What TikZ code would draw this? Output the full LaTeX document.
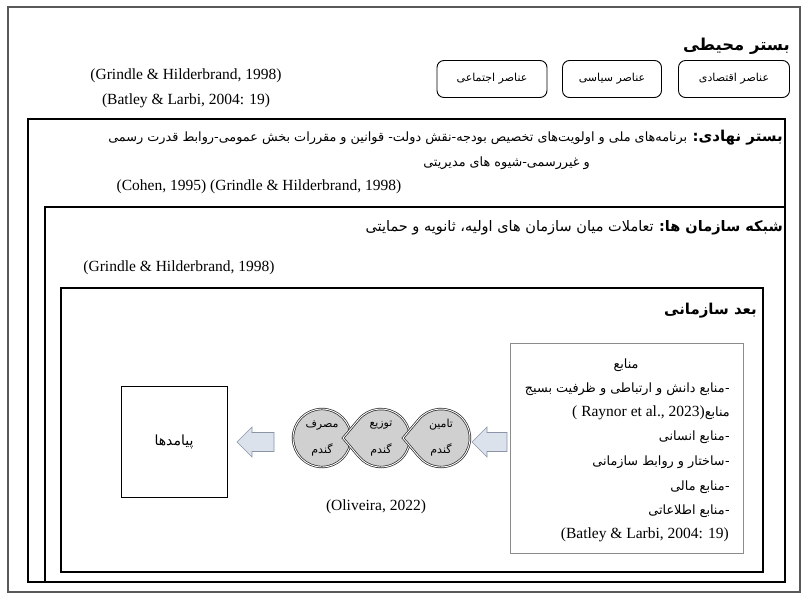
\documentclass[tikz,border=0pt]{standalone}
\usepackage{fontspec}
\setmainfont{Liberation Serif}
\newfontfamily\ar[Script=Arabic]{DejaVu Sans}
\TeXXeTstate=1
\usetikzlibrary{calc}
\definecolor{arrfill}{HTML}{DCE2EC}
\definecolor{arrdraw}{HTML}{8A94A6}
\definecolor{wheatfill}{HTML}{D0D0D0}
\newcommand{\AR}[1]{{\ar\beginR #1\endR}}
\newcommand{\ARd}[1]{{\ar\beginR #1\endR\kern0.5pt-}}
\begin{document}
\begin{tikzpicture}[x=1pt,y=-1pt,
  frame/.style={draw=black!65, line width=1.6pt},
  boxline/.style={draw=black, line width=1.1pt},
  resline/.style={draw=black!45, line width=0.9pt},
  elem/.style={draw=black, line width=0.9pt, rounded corners=7pt, minimum height=37pt, inner sep=0pt, font=\fontsize{11}{13}\selectfont},
  lat/.style={font=\fontsize{15.5}{18}\selectfont, inner sep=0pt},
  artx/.style={font=\fontsize{12.8}{15}\selectfont, inner sep=0pt},
  cirtx/.style={font=\fontsize{11}{13}\selectfont, inner sep=0pt},
  arbold/.style={font=\fontsize{15}{18}\selectfont\bfseries, inner sep=0pt},
  blockarrow/.style={draw=arrdraw, fill=arrfill, line width=0.6pt},
  wheat/.style={fill=wheatfill, draw=black!85, double=white, double distance=0.9pt, line width=0.7pt},
  outbox/.style={draw=black, line width=0.9pt, minimum width=106pt, minimum height=111pt, inner sep=0pt}
]
\useasboundingbox (0,0) rectangle (808,600);
\fill[white] (0,0) rectangle (808,600);

% frames
\draw[frame] (8,7) rectangle (800,592);
\draw[boxline] (28,119) rectangle (785,582);
\draw[boxline] (45,207) rectangle (785,582);
\draw[boxline] (61,288) rectangle (763,572);
\draw[resline] (510,343) rectangle (743,553);

% environment
\node[arbold, font=\fontsize{16.4}{19}\selectfont\bfseries, anchor=east] (envt) at (790,46) {\AR{بستر محیطی}};
\node[elem, minimum width=111pt] (e1) at (734,79) {\AR{عناصر اقتصادی}};
\node[elem, minimum width=99pt] (e2) at (612,79) {\AR{عناصر سیاسی}};
\node[elem, minimum width=110pt] (e3) at (492,79) {\AR{عناصر اجتماعی}};
\node[lat] (c1) at (186,76) {(Grindle \& Hilderbrand, 1998)};
\node[lat] (c2) at (186,101) {(Batley \& Larbi, 2004: 19)};

% institutional
\node[artx, anchor=east] (nh1) at (783,138) {\AR{{\fontsize{15}{18}\selectfont\bfseries بستر نهادی:} برنامه‌های ملی و اولویت‌های تخصیص بودجه-نقش دولت- قوانین و مقررات بخش عمومی-روابط قدرت رسمی}};
\node[artx, anchor=east] (nh2) at (590,163) {\AR{و غیررسمی-شیوه های مدیریتی}};
\node[lat] (c3) at (259,187) {(Cohen, 1995) (Grindle \& Hilderbrand, 1998)};

% network
\node[artx, anchor=east] (sh1) at (783,228) {\AR{{\fontsize{14.5}{17}\selectfont\bfseries شبکه سازمان ها:} {\fontsize{14.5}{17}\selectfont تعاملات میان سازمان های اولیه، ثانویه و حمایتی}}};
\node[lat] (c4) at (179,268) {(Grindle \& Hilderbrand, 1998)};

% organisational
\node[arbold, anchor=east] (org) at (757,311) {\AR{بعد سازمانی}};

% resources
\node[artx] (r0) at (626,365) {\AR{منابع}};
\node[artx, anchor=east] (r1) at (730,389) {\ARd{منابع دانش و ارتباطی و ظرفیت بسیج}};
\node[artx, anchor=east] (r2) at (730,413) {{\fontsize{15.5}{18}\selectfont ( Raynor et al., 2023)}\AR{منابع}};
\node[artx, anchor=east] (r3) at (730,437) {\ARd{منابع انسانی}};
\node[artx, anchor=east] (r4) at (730,462) {\ARd{ساختار و روابط سازمانی}};
\node[artx, anchor=east] (r5) at (730,487) {\ARd{منابع مالی}};
\node[artx, anchor=east] (r6) at (730,511) {\ARd{منابع اطلاعاتی}};
\node[lat, anchor=east] (r7) at (729,535) {(Batley \& Larbi, 2004: 19)};

% outcomes
\node[outbox] (out) at (174,442) {};
\node[artx, font=\fontsize{14}{17}\selectfont] (outt) at (out) {\AR{پیامدها}};

% block arrows
\draw[blockarrow] (237,442) -- (252,427) -- (252,432.5) -- (274,432.5) -- (274,451.5) -- (252,451.5) -- (252,457) -- cycle;
\draw[blockarrow] (472,442) -- (487,427) -- (487,432.5) -- (507,432.5) -- (507,451.5) -- (487,451.5) -- (487,457) -- cycle;

% wheat chain
\coordinate (w1) at (322,438);
\coordinate (w2) at (381,438);
\coordinate (w3) at (441,438);
\path[wheat] (w1) circle[radius=29pt];
\path[wheat] ($(w2)+(-38pt,0pt)$) -- ($(w2)+(140:29pt)$) arc[start angle=140, end angle=-140, radius=29pt] -- cycle;
\path[wheat] ($(w3)+(-38pt,0pt)$) -- ($(w3)+(140:29pt)$) arc[start angle=140, end angle=-140, radius=29pt] -- cycle;
\node[cirtx] (w1a) at ($(w1)+(0pt,13pt)$) {\AR{مصرف}};
\node[cirtx] (w1b) at ($(w1)+(0pt,-12pt)$) {\AR{گندم}};
\node[cirtx] (w2a) at ($(w2)+(0pt,13pt)$) {\AR{توزیع}};
\node[cirtx] (w2b) at ($(w2)+(0pt,-12pt)$) {\AR{گندم}};
\node[cirtx] (w3a) at ($(w3)+(0pt,13pt)$) {\AR{تامین}};
\node[cirtx] (w3b) at ($(w3)+(0pt,-12pt)$) {\AR{گندم}};
\node[lat] (oli) at (376,507) {(Oliveira, 2022)};
\end{tikzpicture}
\end{document}
